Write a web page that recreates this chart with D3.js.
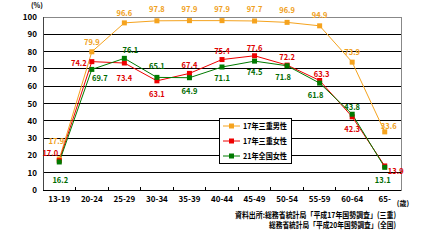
<!DOCTYPE html>
<html><head><meta charset="utf-8">
<script src="https://cdn.jsdelivr.net/npm/d3@7"></script>
<style>body{margin:0;background:#fff}svg{display:block}text{font-family:"Noto Sans CJK JP","DejaVu Sans",sans-serif}</style>
</head><body><svg id="c" width="439" height="247"></svg>
<script>
const categories = ["13-19","20-24","25-29","30-34","35-39","40-44","45-49","50-54","55-59","60-64","65-"];
const seriesNames = ["17年三重男性","17年三重女性","21年全国女性"];
const male17Mie = [17.9,79.9,96.6,97.8,97.9,97.9,97.7,96.9,94.9,73.9,33.6];
const female17Mie = [17.0,74.2,73.4,63.1,67.4,75.4,77.6,72.2,63.3,42.3,13.9];
const female21Nation = [16.2,69.7,76.1,65.1,64.9,71.1,74.5,71.8,61.8,43.8,13.1];
const yTicks = [0,10,20,30,40,50,60,70,80,90,100];
const sourceLines = ["資料出所:総務省統計局「平成17年国勢調査」(三重)","総務省統計局「平成20年国勢調査」(全国)"];
// label placement per point: [dx, dy]
const placeMale = [[-3,-18],[0,-10],[0,-10],[0,-12],[0,-12],[0,-12],[0,-12],[0,-12],[0,-11],[0,-10],[4,-6]];
const placeF17 = [[-9,-8],[-13,1],[0,15],[0,13],[0,-8],[0,-9],[0,-8],[0,-8],[2,-6],[0,12],[11,5]];
const placeF21 = [[1,18],[8,9],[6,-8],[0,-11],[0,13],[0,11],[0,11],[-4,11],[-4,12],[0,-7],[-2,13]];

const svg = d3.select("#c");
const L=43, R=401, T=17, B=190;
const x = d3.scaleBand().domain(categories).range([L,R]);
const y = d3.scaleLinear().domain([0,100]).range([B,T]);
const cx = c => x(c)+x.bandwidth()/2;

// grid
svg.append("g").selectAll("line").data(yTicks.filter(v=>v>0&&v<100)).join("line")
  .attr("x1",L).attr("x2",R).attr("y1",d=>y(d)).attr("y2",d=>y(d)).attr("stroke","#000").attr("stroke-width",1).attr("shape-rendering","crispEdges");
svg.append("rect").attr("x",L).attr("y",T).attr("width",R-L).attr("height",B-T).attr("fill","none").attr("stroke","#888").attr("shape-rendering","crispEdges");
svg.append("line").attr("x1",L).attr("x2",R).attr("y1",B).attr("y2",B).attr("stroke","#000").attr("shape-rendering","crispEdges");
svg.append("line").attr("x1",L).attr("x2",L).attr("y1",T).attr("y2",B).attr("stroke","#444").attr("shape-rendering","crispEdges");
// x boundary ticks
svg.append("g").selectAll("line").data(categories.slice(1)).join("line")
  .attr("x1",d=>x(d)).attr("x2",d=>x(d)).attr("y1",B).attr("y2",B-3).attr("stroke","#000").attr("shape-rendering","crispEdges");

// y axis
const ya = svg.append("g").attr("transform",`translate(${L},0)`).call(d3.axisLeft(y).tickValues(yTicks).tickSize(0).tickPadding(6));
ya.select(".domain").remove();
ya.selectAll("text").attr("font-size",8).attr("font-weight","bold").attr("fill","#000");
// x axis
const xa = svg.append("g").attr("transform",`translate(0,${B})`).call(d3.axisBottom(x).tickSize(0).tickPadding(6));
xa.select(".domain").remove();
xa.selectAll("text").attr("font-size",8).attr("font-weight","bold").attr("fill","#000");

svg.append("text").attr("x",37).attr("y",8).attr("text-anchor","middle").attr("font-size",7).attr("font-weight","bold").text("(%)");
svg.append("text").attr("x",403).attr("y",206).attr("text-anchor","middle").attr("font-size",7).attr("font-weight","bold").text("(歳)");

const series = [
  {name:seriesNames[0], vals:male17Mie, color:"#f5a31e", lab:"#f0a020", place:placeMale},
  {name:seriesNames[1], vals:female17Mie, color:"#ee0000", lab:"#dd0000", place:placeF17},
  {name:seriesNames[2], vals:female21Nation, color:"#007a00", lab:"#006a00", place:placeF21}
];
const line = d3.line().x((d,i)=>cx(categories[i])).y(d=>y(d));
series.forEach(s=>{
  svg.append("path").datum(s.vals).attr("d",line).attr("fill","none").attr("stroke",s.color).attr("stroke-width",1);
});
series.forEach(s=>{
  svg.append("g").selectAll("rect").data(s.vals).join("rect")
    .attr("x",(d,i)=>cx(categories[i])-2.5).attr("y",d=>y(d)-2.5).attr("width",5).attr("height",5).attr("fill",s.color);
});
series.forEach(s=>{
  svg.append("g").selectAll("text").data(s.vals).join("text")
    .attr("x",(d,i)=>cx(categories[i])+s.place[i][0]).attr("y",(d,i)=>y(d)+s.place[i][1]+3)
    .attr("text-anchor","middle").attr("font-size",7.5).attr("font-weight","bold").attr("fill",s.lab)
    .text(d=>d.toFixed(1));
});

// legend
const lg = svg.append("g");
lg.append("rect").attr("x",219.5).attr("y",118.5).attr("width",72).attr("height",45).attr("fill","#fff").attr("stroke","#000");
series.forEach((s,i)=>{
  const yy = 126+i*15;
  lg.append("line").attr("x1",223).attr("x2",240).attr("y1",yy).attr("y2",yy).attr("stroke",s.color);
  lg.append("rect").attr("x",229).attr("y",yy-2.5).attr("width",5).attr("height",5).attr("fill",s.color);
  lg.append("text").attr("x",243).attr("y",yy+3).attr("font-size",8).attr("font-weight","bold").attr("fill","#000")
    .attr("textLength",44).attr("lengthAdjust","spacingAndGlyphs").text(s.name);
});

// source
const srcW = [161,127];
svg.append("g").selectAll("text").data(sourceLines).join("text")
  .attr("x",(d,i)=>396-srcW[i]).attr("y",(d,i)=>217.5+i*10).attr("font-size",8).attr("font-weight","bold").attr("fill","#000")
  .attr("textLength",(d,i)=>srcW[i]).attr("lengthAdjust","spacingAndGlyphs").text(d=>d);
</script></body></html>
